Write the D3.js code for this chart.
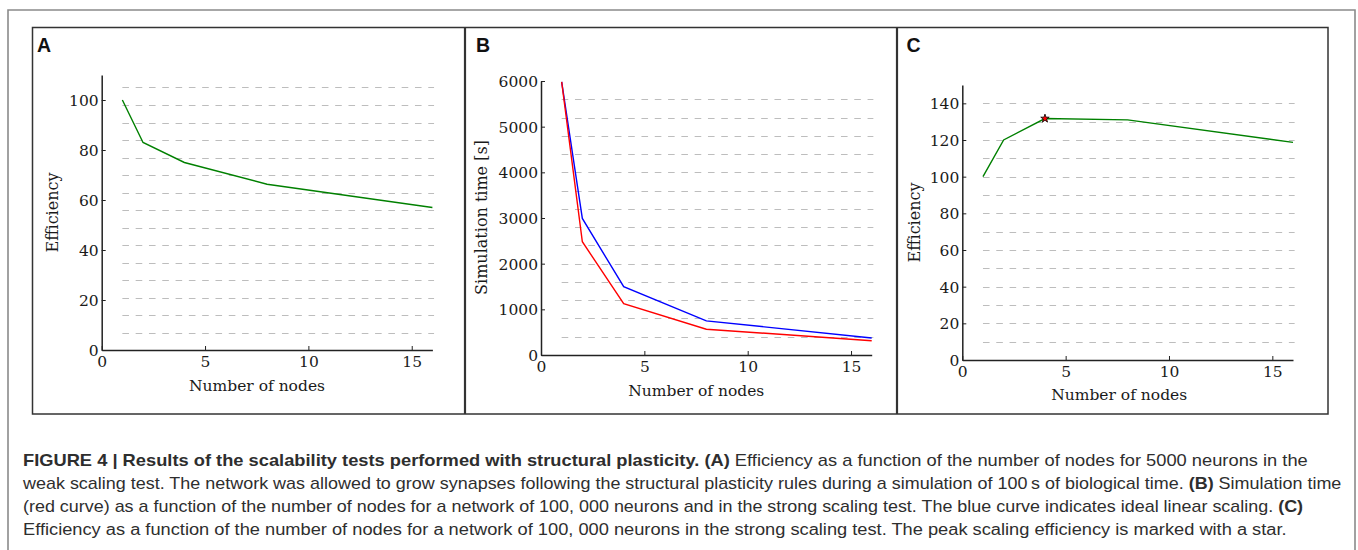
<!DOCTYPE html>
<html><head><meta charset="utf-8">
<script src="https://cdn.jsdelivr.net/npm/d3@7"></script>
<style>body{margin:0;background:#fff}svg{display:block}</style>
</head><body><svg id="c" width="1358" height="550"></svg>
<script>
// ---- data ----
const nodes = [1, 2, 4, 8, 16];
const effA = [100, 83, 75, 66.3, 57];
const simTime = [5980, 2480, 1125, 565, 313];
const idealTime = [5980, 2990, 1495, 747.5, 373.75];
const effC = [100, 120, 131.7, 131, 118.7];
const peakNodes = [4];
const peakEff = [131.7];
const xTicks = [0, 5, 10, 15];
const yTicksA = [0, 20, 40, 60, 80, 100];
const yTicksB = [0, 1000, 2000, 3000, 4000, 5000, 6000];
const yTicksC = [0, 20, 40, 60, 80, 100, 120, 140];
const gridA = [7, 14, 21, 28, 35, 42, 49, 56, 63, 70, 77, 84, 91, 98, 105];
const gridB = [400, 800, 1200, 1600, 2000, 2400, 2800, 3200, 3600, 4000, 4400, 4800, 5200, 5600];
const gridC = [10, 20, 30, 40, 50, 60, 70, 80, 90, 100, 110, 120, 130, 140];
const panelLetters = ["A", "B", "C"];
const xLabel = "Number of nodes";
const yLabels = ["Efficiency", "Simulation time [s]", "Efficiency"];
const captionLines = [
  [["FIGURE 4 | Results of the scalability tests performed with structural plasticity.", true], [" (A)", true], [" Efficiency as a function of the number of nodes for 5000 neurons in the", false]],
  [["weak scaling test. The network was allowed to grow synapses following the structural plasticity rules during a simulation of 100\u2009s of biological time. ", false], ["(B)", true], [" Simulation time", false]],
  [["(red curve) as a function of the number of nodes for a network of 100, 000 neurons and in the strong scaling test. The blue curve indicates ideal linear scaling. ", false], ["(C)", true]],
  [["Efficiency as a function of the number of nodes for a network of 100, 000 neurons in the strong scaling test. The peak scaling efficiency is marked with a star.", false]]
];

// ---- layout ----
const svg = d3.select("#c");
const serif = "'DejaVu Serif', serif";

// outer frame
svg.append("path").attr("d", "M8,560V10H1355V560")
  .attr("fill", "none").attr("stroke", "#8a8a8a").attr("stroke-width", 1.6);
// panel frame
svg.append("rect").attr("x", 32.5).attr("y", 27.5).attr("width", 1295.5).attr("height", 386.5)
  .attr("fill", "none").attr("stroke", "#333").attr("stroke-width", 1.5);
[465, 897].forEach(x => svg.append("line").attr("x1", x).attr("x2", x).attr("y1", 27).attr("y2", 414)
  .attr("stroke", "#333").attr("stroke-width", 2.2));

const panels = [
  {letter: panelLetters[0], lx: 37, xr: [101.7, 432.4], yd: [0, 110], yr: [350, 75], yt: yTicksA, grid: gridA,
   ylab: yLabels[0], ylx: 58, yly: 212.5, xlx: 257, xly: 390.5,
   series: [{y: effA, c: "#008000"}]},
  {letter: panelLetters[1], lx: 476, xr: [541, 871.7], yd: [0, 6000], yr: [355, 81], yt: yTicksB, grid: gridB,
   ylab: yLabels[1], ylx: 486.5, yly: 217.5, xlx: 696.3, xly: 395.5,
   series: [{y: idealTime, c: "#0000ff"}, {y: simTime, c: "#ff0000"}]},
  {letter: panelLetters[2], lx: 906.5, xr: [962.3, 1293], yd: [0, 150], yr: [360, 85], yt: yTicksC, grid: gridC,
   ylab: yLabels[2], ylx: 920, yly: 222.5, xlx: 1119.2, xly: 400,
   series: [{y: effC, c: "#008000"}], star: true}
];

panels.forEach(p => {
  const x = d3.scaleLinear().domain([0, 16]).range(p.xr);
  const y = d3.scaleLinear().domain(p.yd).range(p.yr);
  const g = svg.append("g");

  g.append("text").attr("x", p.lx).attr("y", 52).text(p.letter)
    .attr("font-family", "'Liberation Sans', Arial, sans-serif").attr("font-weight", "bold")
    .attr("font-size", 19.5).attr("fill", "#111");

  // grid
  g.append("g").selectAll("line").data(p.grid).join("line")
    .attr("x1", x(1)).attr("x2", x(16.08))
    .attr("y1", d => Math.round(y(d)) + 0.5).attr("y2", d => Math.round(y(d)) + 0.5)
    .attr("stroke", "#bdbdbd").attr("stroke-width", 1).attr("stroke-dasharray", "6.6,6.7");

  // axes
  const ay = g.append("g").attr("transform", `translate(${p.xr[0]},0)`)
    .call(d3.axisLeft(y).tickValues(p.yt).tickFormat(d3.format("d")).tickSizeInner(-4).tickSizeOuter(0).tickPadding(3));
  const ax = g.append("g").attr("transform", `translate(0,${p.yr[0]})`)
    .call(d3.axisBottom(x).tickValues(xTicks).tickFormat(d3.format("d")).tickSizeInner(-4).tickSizeOuter(0).tickPadding(6));
  [ay, ax].forEach(a => {
    a.select(".domain").attr("stroke", "#222").attr("stroke-width", 1.5);
    a.selectAll(".tick line").attr("stroke", "#222").attr("stroke-width", 1);
    a.selectAll("text").attr("font-family", serif).attr("font-size", 15.5).attr("fill", "#1a1a1a");
  });
  ay.selectAll("text").attr("dy", "0.36em");

  // series
  const line = d3.line().x((d, i) => x(nodes[i])).y(d => y(d));
  p.series.forEach(s => {
    g.append("path").datum(s.y).attr("d", line).attr("fill", "none")
      .attr("stroke", s.c).attr("stroke-width", 1.4).attr("stroke-linejoin", "miter");
  });
  if (p.star) {
    g.selectAll(".star").data(peakNodes).join("path").attr("class", "star")
      .attr("d", d3.symbol(d3.symbolStar).size(22))
      .attr("transform", (d, i) => `translate(${x(d)},${y(peakEff[i])})`)
      .attr("fill", "#ff0000").attr("stroke", "#000").attr("stroke-width", 0.8);
  }

  // labels
  g.append("text").attr("transform", `translate(${p.ylx},${p.yly}) rotate(-90)`)
    .attr("text-anchor", "middle").attr("font-family", serif).attr("font-size", 16).attr("fill", "#1a1a1a")
    .text(p.ylab);
  g.append("text").attr("x", p.xlx).attr("y", p.xly).attr("text-anchor", "middle")
    .attr("font-family", serif).attr("font-size", 15.5).attr("fill", "#1a1a1a").text(xLabel);
});

// caption
const capBase = [466, 489, 512, 535];
const capEnd = [1309, 1342, 1304, 1287];
captionLines.forEach((segs, i) => {
  const t = svg.append("text").attr("font-family", "'Liberation Sans', Arial, sans-serif")
    .attr("font-size", 16).attr("fill", "#2e2e2e").attr("xml:space", "preserve")
    .style("white-space", "pre");
  segs.forEach(s => t.append("tspan").attr("font-weight", s[1] ? "bold" : "normal").text(s[0]));
  const w = t.node().getComputedTextLength();
  const sc = (capEnd[i] - 23) / w;
  t.attr("transform", `translate(23,${capBase[i]}) scale(${sc},1)`);
});
</script></body></html>
